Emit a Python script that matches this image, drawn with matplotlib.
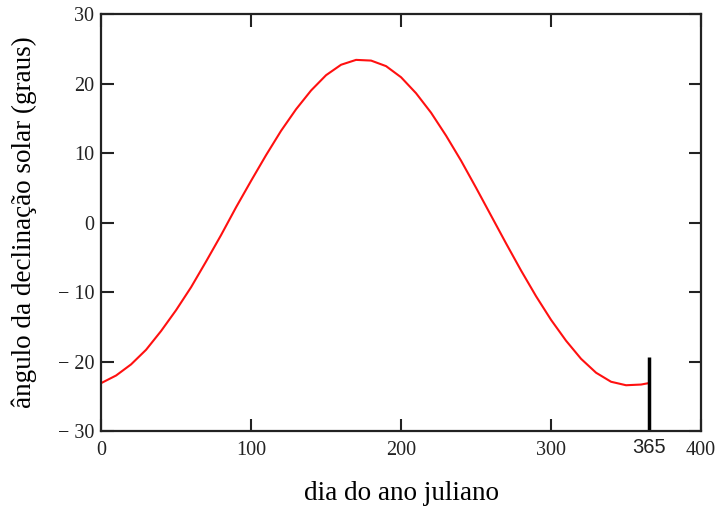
import matplotlib
matplotlib.use("Agg")
import matplotlib.pyplot as plt
from matplotlib.ticker import FuncFormatter

# dia juliano e declinacao solar (graus)
dias = [0, 10, 20, 30, 40, 50, 60, 70, 80, 90, 100, 110, 120, 130, 140, 150,
        160, 170, 180, 190, 200, 210, 220, 230, 240, 250, 260, 270, 280, 290,
        300, 310, 320, 330, 340, 350, 360, 365]
declinacao = [-23.1, -22.0, -20.4, -18.3, -15.6, -12.6, -9.3, -5.6, -1.8, 2.2,
              6.0, 9.7, 13.2, 16.3, 19.0, 21.2, 22.7, 23.4, 23.3, 22.5, 20.9,
              18.6, 15.8, 12.5, 8.9, 5.0, 1.0, -3.0, -6.9, -10.6, -14.0, -17.0,
              -19.6, -21.6, -22.9, -23.4, -23.3, -23.1]

x_ticks = [0, 100, 200, 300, 400]
y_ticks = [-30, -20, -10, 0, 10, 20, 30]
marca_dia = 365
marca_topo = -19.3

plt.rcParams['font.family'] = ['Liberation Serif', 'DejaVu Serif']

fig = plt.figure(figsize=(7.22, 5.09), dpi=100)
ax = fig.add_axes([0.14, 0.153, 0.831, 0.8195])

ax.plot(dias, declinacao, color='#ff1010', lw=1.5)
ax.plot([marca_dia, marca_dia], [-30, marca_topo], color='black', lw=2.5,
        solid_capstyle='butt')

ax.set_xlim(0, 400)
ax.set_ylim(-30, 30)
ax.set_xticks(x_ticks)
ax.set_yticks(y_ticks)
ax.yaxis.set_major_formatter(FuncFormatter(
    lambda v, p: f"\u2212 {abs(int(v))}" if v < 0 else f"{int(v)}"))

ax.set_xticks([marca_dia], minor=True)
ax.set_xticklabels([str(marca_dia)], minor=True)
for lab in ax.get_xticklabels(minor=True):
    lab.set_family(['Liberation Sans Narrow', 'Liberation Sans', 'DejaVu Sans'])

ax.tick_params(which='major', direction='in', length=9, width=1.5,
               top=True, right=True, labelsize=14.5, colors='#222222')
ax.tick_params(axis='x', which='major', pad=7)
ax.tick_params(axis='y', which='major', pad=5)
ax.tick_params(which='minor', length=0, top=False, labelsize=14.5,
               labelcolor='#222222', pad=5)

for s in ax.spines.values():
    s.set_linewidth(1.6)
    s.set_color('#222222')

ax.set_xlabel('dia do ano juliano', fontsize=19.5, labelpad=15)
ax.set_ylabel('ângulo da declinação solar (graus)', fontsize=19.5)
ax.yaxis.set_label_coords(-0.107, 0.5)

fig.savefig('out.png', dpi=100)
